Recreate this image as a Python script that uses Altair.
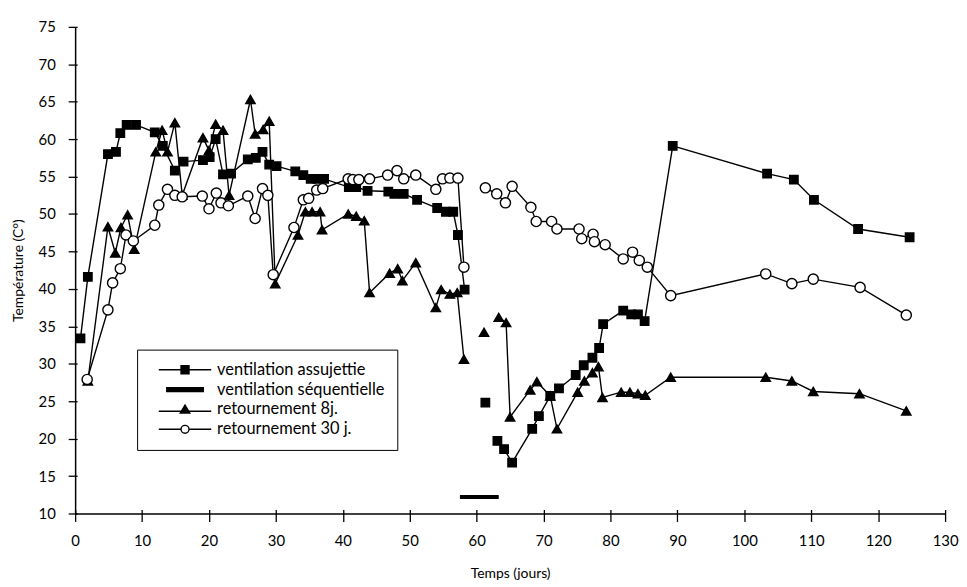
import altair as alt
import pandas as pd

# ventilation assujettie (squares)
sq_day = [0.8, 1.9, 4.9, 6.1, 6.75, 7.7, 9.1, 11.9, 13.1, 14.9, 16.2, 19.1, 20.1, 21.0, 22.1, 23.3,
          25.8, 27.0, 28.0, 29.0, 30.1, 32.9, 34.1, 35.2, 36.2, 37.2, 40.9, 42.0, 43.7, 46.8, 47.7,
          49.1, 51.1, 54.1, 55.4, 56.5, 57.2, 58.2,
          61.3,
          63.1, 64.1, 65.3, 68.3, 69.3, 71.0, 72.3, 74.8, 76.0, 77.3, 78.3, 78.9, 81.9, 83.1, 84.1,
          85.1, 89.3, 103.4, 107.4, 110.4, 117.0, 124.7]
sq_temp = [33.4, 41.6, 58.0, 58.3, 60.8, 61.9, 61.9, 60.9, 59.1, 55.8, 57.0, 57.2, 57.6, 60.0, 55.3, 55.4,
           57.3, 57.5, 58.3, 56.6, 56.4, 55.7, 55.2, 54.7, 54.7, 54.7, 53.6, 53.6, 53.1, 53.0, 52.7,
           52.7, 51.9, 50.8, 50.3, 50.3, 47.2, 39.9,
           24.8,
           19.7, 18.6, 16.8, 21.3, 23.0, 25.7, 26.7, 28.5, 29.8, 30.8, 32.1, 35.3, 37.1, 36.6, 36.6,
           35.7, 59.1, 55.4, 54.6, 51.9, 48.0, 46.9]
sq_seg = [0] * 38 + [1] + [2] * 22

# retournement 8j. (triangles)
tri_day = [1.9, 4.9, 6.0, 6.85, 7.84, 8.83, 12.05, 13.0, 13.8, 14.9, 16.0, 19.1, 20.0, 21.0, 22.1, 23.0,
           26.2, 26.9, 28.1, 29.0, 29.9, 33.3, 34.4, 35.4, 36.6, 36.9, 40.8, 42.0, 43.2, 44.0, 47.0,
           48.2, 48.9, 50.9, 53.9, 54.7, 56.0, 57.1, 58.1,
           61.1,
           63.3, 64.4, 65.0, 68.0, 69.0, 71.0, 72.0, 75.1, 76.1, 77.3, 78.2, 78.8, 81.6, 82.9, 84.1,
           85.2, 89.0, 103.2, 107.1, 110.3, 117.2, 124.2]
tri_temp = [27.7, 48.3, 44.8, 48.2, 49.9, 45.3, 58.3, 61.2, 58.3, 62.2, 52.5, 60.2, 58.5, 62.0, 61.2, 52.5,
            65.3, 60.7, 61.3, 62.4, 40.7, 47.2, 50.3, 50.3, 50.3, 47.9, 50.0, 49.7, 49.1, 39.5, 42.1,
            42.7, 41.1, 43.5, 37.5, 39.9, 39.3, 39.5, 30.6,
            34.2,
            36.2, 35.5, 22.9, 26.5, 27.6, 25.7, 21.3, 26.2, 27.7, 28.8, 29.6, 25.5, 26.2, 26.2, 26.0,
            25.8, 28.2, 28.2, 27.7, 26.3, 26.0, 23.7]
tri_seg = [0] * 39 + [1] + [2] * 22

# retournement 30 j. (open circles)
circ_day = [1.8, 4.9, 5.6, 6.75, 7.6, 8.7, 11.9, 12.5, 13.8, 14.9, 16.0, 19.0, 20.0, 21.1, 21.8, 22.9,
            25.8, 26.9, 28.0, 28.8, 29.6, 32.7, 34.1, 34.9, 36.1, 37.0, 40.8, 41.5, 42.4, 44.0, 46.7,
            48.1, 49.1, 50.9, 53.9, 54.9, 56.0, 57.2, 58.1,
            61.3, 63.0, 64.3, 65.3, 68.1, 68.9, 71.2, 72.0, 75.3, 75.7, 77.4, 77.6, 79.2, 81.9, 83.3,
            84.3, 85.5, 89.0, 103.2, 107.1, 110.3, 117.3, 124.2]
circ_temp = [27.9, 37.2, 40.8, 42.7, 47.2, 46.4, 48.5, 51.2, 53.3, 52.5, 52.3, 52.4, 50.7, 52.8, 51.5, 51.1,
             52.4, 49.4, 53.4, 52.5, 41.9, 48.2, 51.9, 52.1, 53.2, 53.4, 54.7, 54.6, 54.6, 54.7, 55.2,
             55.8, 54.7, 55.2, 53.3, 54.7, 54.8, 54.8, 42.9,
             53.5, 52.7, 51.5, 53.7, 50.9, 49.0, 49.0, 48.0, 48.0, 46.7, 47.3, 46.3, 45.9, 44.0, 44.9,
             43.8, 42.9, 39.1, 42.0, 40.7, 41.3, 40.2, 36.5]
circ_seg = [0] * 39 + [1] * 23

# ventilation séquentielle (period bar)
seq_start = [57.5]
seq_end = [63.3]
seq_level = [12.2]

series_names = ["ventilation assujettie", "ventilation séquentielle",
                "retournement 8j.", "retournement 30 j."]

x_ticks = list(range(0, 131, 10))
y_ticks = list(range(10, 76, 5))

FONT = "Lato"
W, H = 876, 490

rows = []
for name, days, temps, segs in [
    (series_names[0], sq_day, sq_temp, sq_seg),
    (series_names[2], tri_day, tri_temp, tri_seg),
    (series_names[3], circ_day, circ_temp, circ_seg),
]:
    for i, (d, t, s) in enumerate(zip(days, temps, segs)):
        rows.append({"serie": name, "jour": d, "temp": t, "seg": f"{name}-{s}", "ord": i})
df = pd.DataFrame(rows)
df_seq = pd.DataFrame({"start": seq_start, "end": seq_end, "temp": seq_level})
df_leg = pd.DataFrame({"leg": series_names})

x_scale = alt.Scale(domain=[0, 130], nice=False, zero=False)
y_scale = alt.Scale(domain=[10, 75], nice=False, zero=False)

x_axis_main = alt.Axis(values=x_ticks, title="Temps (jours)", grid=False, tickSize=8,
                       labelPadding=12, titleX=W / 2, titleY=60, titleBaseline="middle",
                       labelFlush=False)
y_axis_main = alt.Axis(values=y_ticks, title="Température (C°)", grid=False, tickSize=7,
                       labelPadding=13, titleX=-57, titleY=H / 2, titleAngle=-90,
                       titleAlign="center", titleBaseline="middle")

lines = alt.Chart(df).mark_line(color="black", strokeWidth=1.4).encode(
    x=alt.X("jour:Q", scale=x_scale, axis=x_axis_main),
    y=alt.Y("temp:Q", scale=y_scale, axis=y_axis_main),
    detail="seg:N",
    order="ord:Q",
)

pt_domain = [series_names[0], series_names[2], series_names[3]]
points = alt.Chart(df).mark_point(filled=True, stroke="black", strokeWidth=1.4, opacity=1).encode(
    x=alt.X("jour:Q", scale=x_scale,
            axis=alt.Axis(orient="bottom", offset=-4, values=x_ticks, labels=False, domain=False,
                          title=None, grid=False, tickSize=4)),
    y=alt.Y("temp:Q", scale=y_scale,
            axis=alt.Axis(orient="left", offset=-2, values=y_ticks, labels=False, domain=False,
                          title=None, grid=False, tickSize=2)),
    shape=alt.Shape("serie:N", scale=alt.Scale(domain=pt_domain,
                                               range=["square", "triangle-up", "circle"]), legend=None),
    fill=alt.Fill("serie:N", scale=alt.Scale(domain=pt_domain,
                                             range=["black", "black", "white"]), legend=None),
    size=alt.Size("serie:N", scale=alt.Scale(domain=pt_domain, range=[72, 105, 70]), legend=None),
)

seq = alt.Chart(df_seq).mark_rule(color="black", strokeWidth=4).encode(
    x=alt.X("start:Q", scale=x_scale, axis=None),
    x2="end:Q",
    y=alt.Y("temp:Q", scale=y_scale, axis=None),
)

sym_sq = "M-6.6,0H6.6M-1,-1H1V1H-1Z"
sym_bar = "M-4.6,-0.5H4.6V0.5H-4.6Z"
sym_tri = "M-6.6,0.45H6.6M0,-1.1L1.2,0.9H-1.2Z"
sym_circ = "M-6.6,0H-1M1,0H6.6M1,0A1,1 0 1,1 -1,0A1,1 0 1,1 1,0Z"

legend = alt.Legend(title=None, orient="none", legendX=62.4, legendY=325,
                    strokeColor="black", fillColor="white", padding=12,
                    labelFont=FONT, labelFontSize=16.5, labelColor="black", labelLimit=400,
                    symbolSize=64, symbolStrokeWidth=1.4,
                    symbolOpacity=1, labelOffset=24, symbolOffset=28, rowPadding=3)

leg_layer = alt.Chart(df_leg).mark_point(filled=True, strokeWidth=1.4).encode(
    x=alt.value(-500),
    y=alt.value(-500),
    shape=alt.Shape("leg:N", scale=alt.Scale(domain=series_names,
                                             range=[sym_sq, sym_bar, sym_tri, sym_circ]),
                    legend=legend),
    fill=alt.Fill("leg:N", scale=alt.Scale(domain=series_names,
                                           range=["black", "black", "black", "white"]),
                  legend=legend),
    stroke=alt.Stroke("leg:N", scale=alt.Scale(domain=series_names,
                                               range=["black", "black", "black", "black"]),
                      legend=legend),
)

chart = alt.layer(lines, seq, points, leg_layer).resolve_scale(
    shape="independent", fill="independent", stroke="independent"
).resolve_axis(x="independent", y="independent").properties(
    width=W, height=H,
    autosize=alt.AutoSizeParams(type="none"),
    padding={"left": 67.6, "top": 17, "right": 14, "bottom": 66},
).configure_view(stroke=None).configure_axis(
    domainColor="black", domainWidth=1.5, tickColor="black", tickWidth=1.3,
    labelFont=FONT, labelFontSize=15, labelColor="black",
    titleFont=FONT, titleFontSize=14, titleColor="black", titleFontWeight="normal",
)

chart.save("out.html", embed_options={"renderer": "svg", "actions": False})
